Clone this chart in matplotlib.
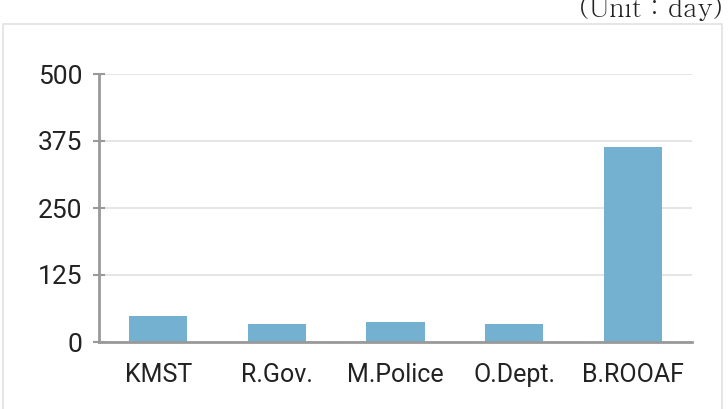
import matplotlib.pyplot as plt
from matplotlib.patches import Rectangle

categories = ['KMST', 'R.Gov.', 'M.Police', 'O.Dept.', 'B.ROOAF']
days = [49, 34, 37, 34, 364]
yticks = [0, 125, 250, 375, 500]

plt.rcParams['font.family'] = ['Roboto', 'DejaVu Sans']

fig = plt.figure(figsize=(7.28, 4.09), dpi=100)

# outer frame
fig.patches.append(Rectangle((3 / 728, -0.05), 719 / 728, 1 - 24 / 409 + 0.05,
                             transform=fig.transFigure, fill=False,
                             edgecolor='#e2e2e2', linewidth=1.2))

fig.text(723 / 728, 1 - 17 / 409, '(Unit : day)', ha='right', va='baseline',
         family=['Batang', 'Liberation Serif', 'DejaVu Serif'], fontsize=19, color='#222222')

ax = fig.add_axes([99 / 728, 1 - 342 / 409, 593 / 728, 268 / 409])
ax.bar(range(len(categories)), days, width=0.49, color='#74B0D0', zorder=3)

ax.set_xlim(-0.5, 4.5)
ax.set_ylim(0, 500)
ax.set_yticks(yticks)
ax.set_xticks(range(len(categories)))
ax.set_xticklabels(categories)
ax.yaxis.grid(True, color='#e0e0e0', linewidth=1.2, zorder=0)

for s in ['top', 'right']:
    ax.spines[s].set_visible(False)
for s in ['left', 'bottom']:
    ax.spines[s].set_color('#999999')
    ax.spines[s].set_linewidth(2)
    ax.spines[s].set_zorder(4)

ax.tick_params(axis='y', direction='inout', length=8, width=1.5, color='#999999',
               labelsize=19, pad=8, labelcolor='#222222')
ax.tick_params(axis='x', length=0, labelsize=18, pad=15, labelcolor='#222222')

fig.savefig('out.png', dpi=100)
